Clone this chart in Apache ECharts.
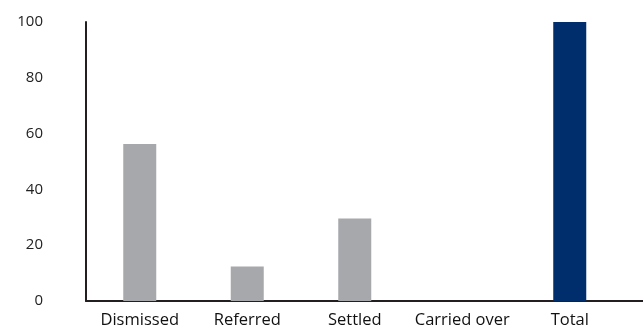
<!DOCTYPE html>
<html>
<head>
<meta charset="utf-8">
<script src="https://cdn.jsdelivr.net/npm/echarts@6/dist/echarts.min.js"></script>
<style>html,body{margin:0;padding:0;background:#fff}#c{width:643px;height:329px}</style>
</head>
<body>
<div id="c"></div>
<script>
const categories = ["Dismissed", "Referred", "Settled", "Carried over", "Total"];
const values = [56.3, 12.4, 29.6, 0, 100];
const barColors = ["#a7a8ac", "#a7a8ac", "#a7a8ac", "#a7a8ac", "#002e6d"];
const yTicks = [0, 20, 40, 60, 80, 100];

const chart = echarts.init(document.getElementById('c'), null, {renderer: 'canvas'});
chart.setOption({
  animation: false,
  grid: {left: 86, right: 19.5, top: 22, bottom: 27, containLabel: false},
  xAxis: {
    type: 'category',
    data: categories,
    axisLine: {lineStyle: {color: '#231f20', width: 2}},
    axisTick: {show: false},
    axisLabel: {color: '#111', fontSize: 16.5, fontFamily: 'Open Sans', margin: 11, interval: 0}
  },
  yAxis: {
    type: 'value',
    min: yTicks[0], max: yTicks[yTicks.length - 1], interval: 20,
    axisLine: {show: true, lineStyle: {color: '#231f20', width: 2}},
    axisTick: {show: false},
    splitLine: {show: false},
    axisLabel: {color: '#222', fontSize: 15, fontFamily: 'Open Sans', margin: 43}
  },
  graphic: [],
  series: [{
    type: 'bar',
    barWidth: 33,
    data: values.map((v, i) => ({value: v, itemStyle: {color: barColors[i]}}))
  }]
});
// extend the x-axis baseline to the right edge like the reference
const p = chart.convertToPixel({xAxisIndex: 0, yAxisIndex: 0}, [categories.length - 1, 0]);
const endX = p[0] + (p[0] - chart.convertToPixel({xAxisIndex: 0, yAxisIndex: 0}, [categories.length - 2, 0])[0]) / 2;
chart.setOption({graphic: [{type: 'line', shape: {x1: endX - 1, y1: p[1], x2: 643, y2: p[1]}, style: {stroke: '#231f20', lineWidth: 2}}]});
</script>
</body>
</html>
